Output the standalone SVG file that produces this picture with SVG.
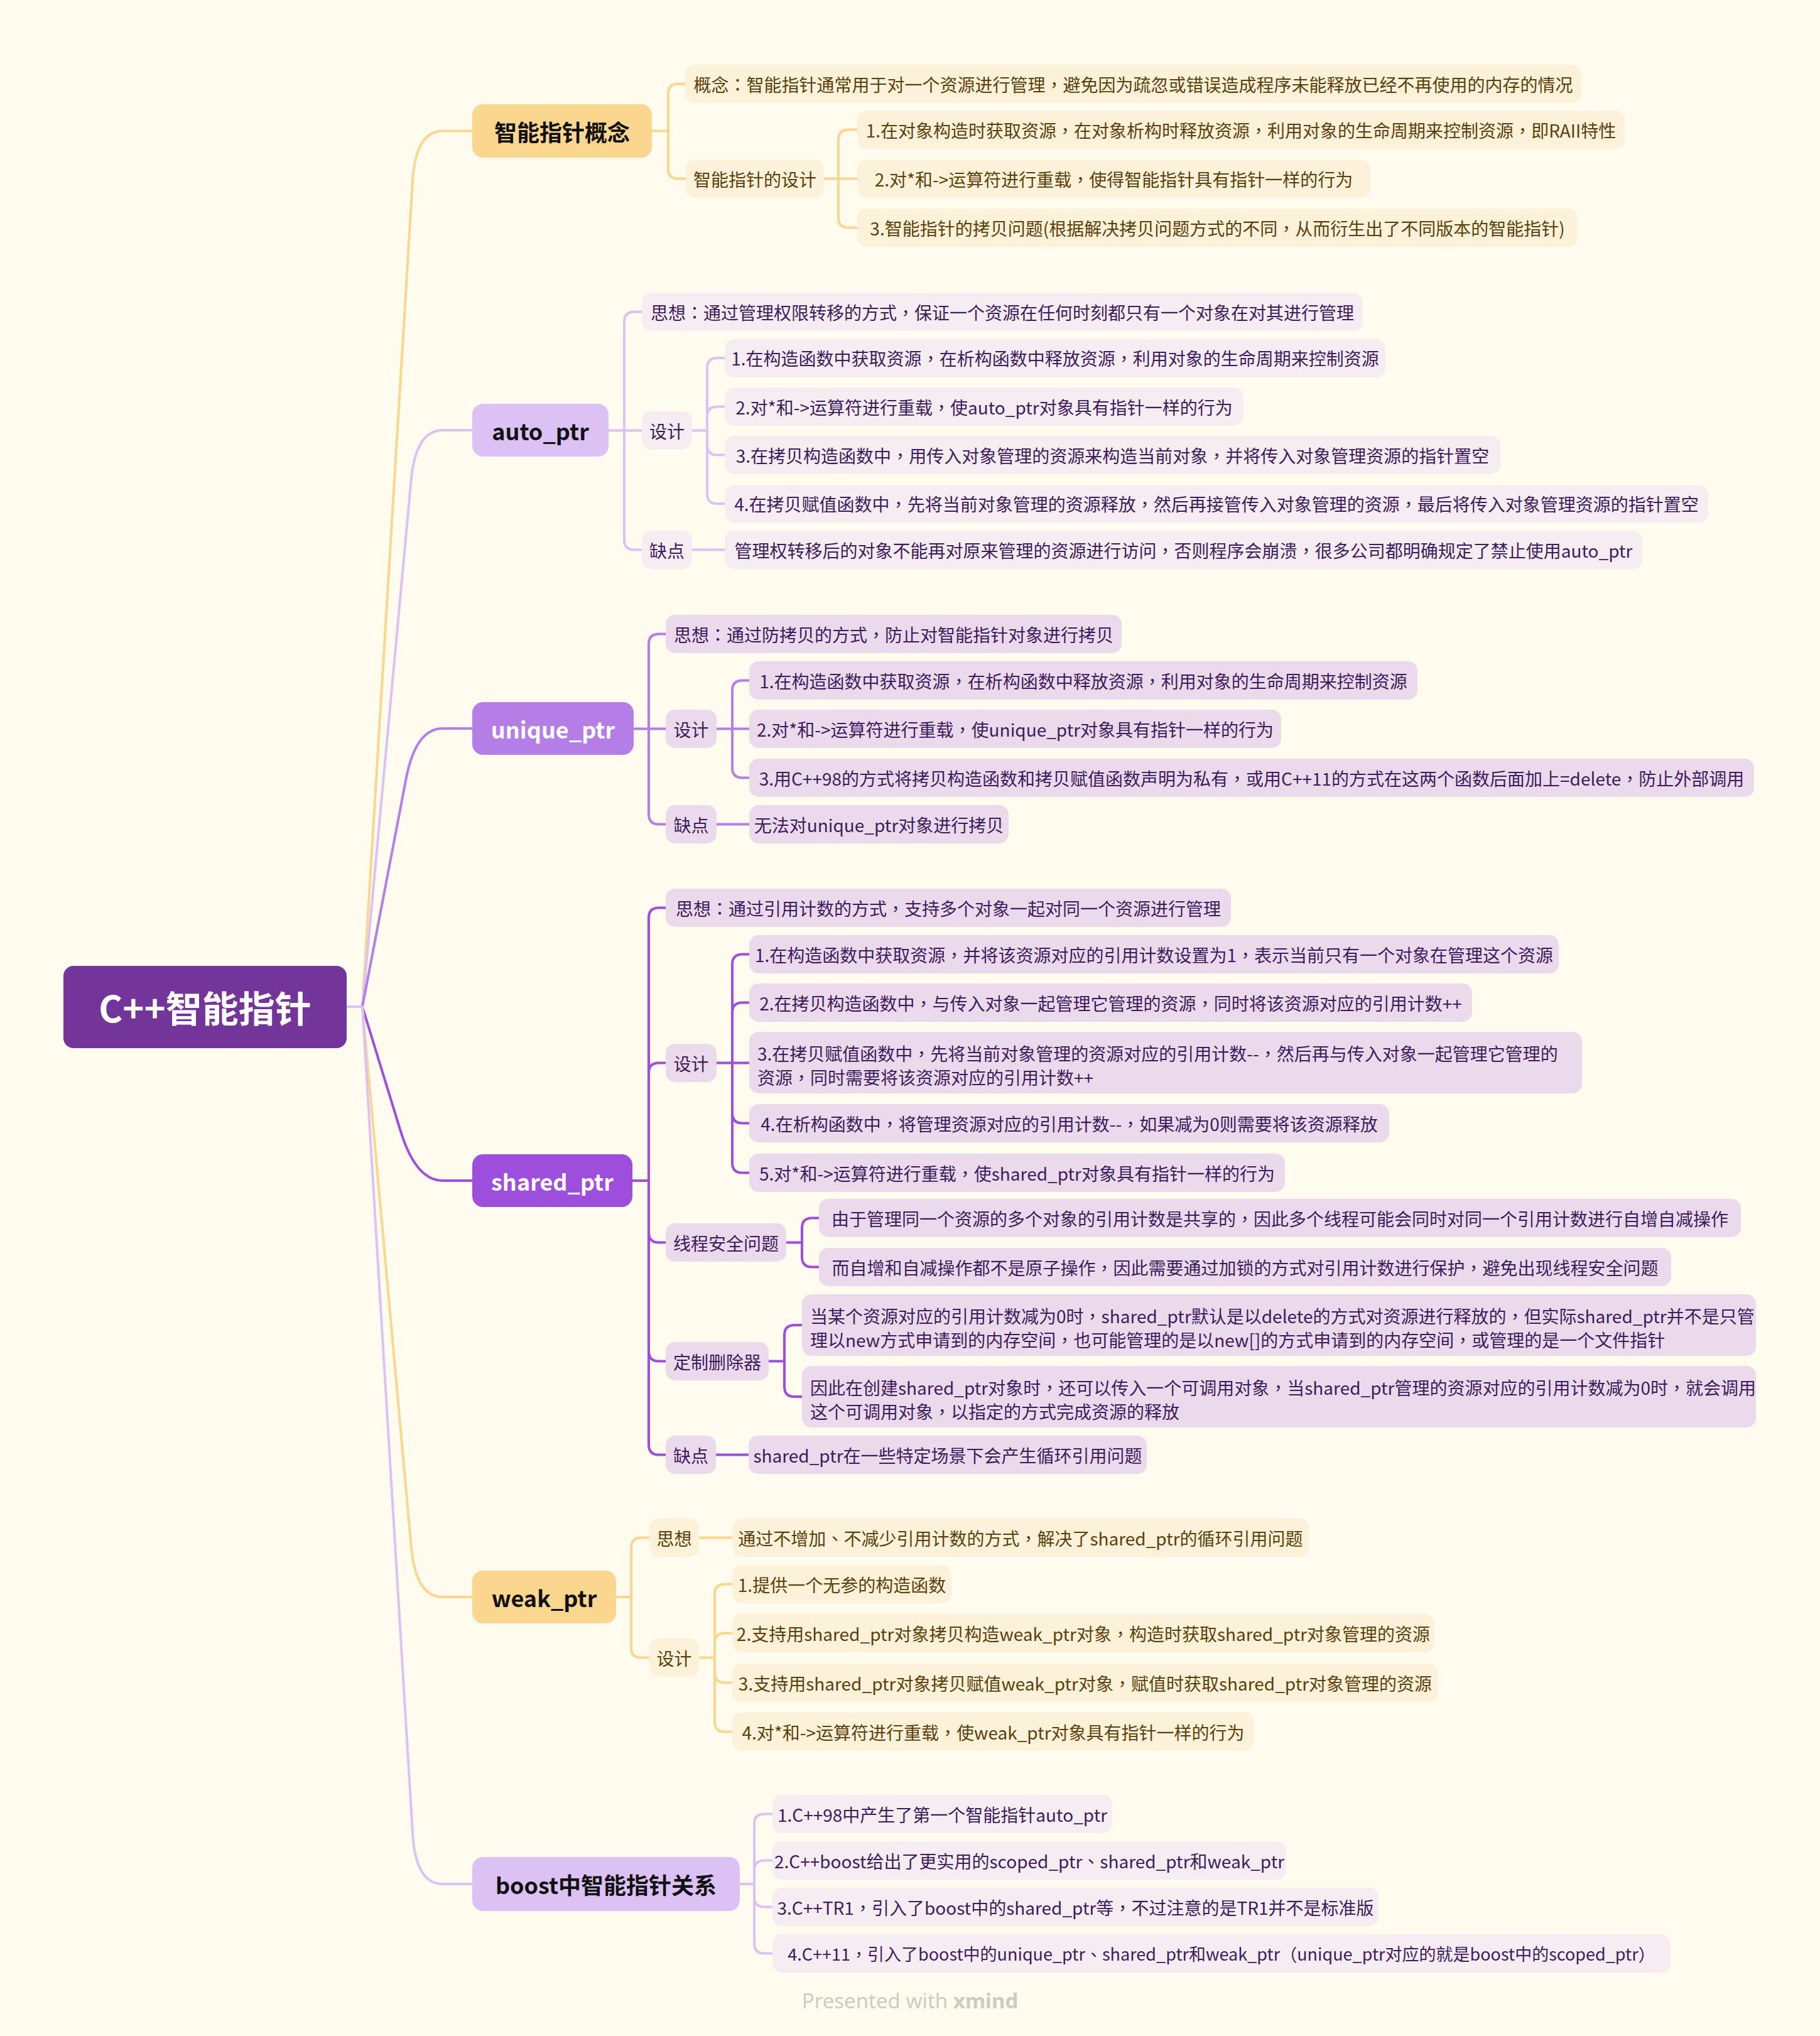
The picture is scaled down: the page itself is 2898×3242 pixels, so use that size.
<svg xmlns="http://www.w3.org/2000/svg" width="2898" height="3242" viewBox="0 0 2898 3242">
<style>
text{font-family:"Noto Sans CJK SC","Noto Sans",sans-serif;dominant-baseline:central;}
.pu{font-family:"Noto Sans CJK TC","Noto Sans CJK SC",sans-serif;}
.t{font-size:28px;text-anchor:middle;}
.tl{font-size:28px;}
.ty{fill:#5C3F0A;}
.tp{fill:#3E1B5C;}
.tm{font-size:36px;font-weight:700;text-anchor:middle;fill:#111111;}
.tw{font-size:36px;font-weight:700;text-anchor:middle;fill:#FFFFFF;}
.cy{fill:#FCF1D9;}
.cl{fill:#F5EDF1;}
.cp{fill:#EBD9EC;}
.my{fill:#FAD68E;}
.ml{fill:#DCC1F4;}
.mu{fill:#B57EE6;}
.ms{fill:#9D4EDD;}
.k{fill:none;stroke-width:4;stroke-linecap:round;stroke-linejoin:round;}
.ky{stroke:#FAD68E;}
.kl{stroke:#DCC1F4;}
.ku{stroke:#B57EE6;}
.ks{stroke:#9D4EDD;}
</style>
<rect x="0" y="0" width="2898" height="3242" fill="#FFFBEF"/>

<g id="connectors">
  <path class="k kl" d="M552,1603 L577,1603"/>
  <path class="k ky" d="M577,1603 L657,288.5 Q662,208.5 705,208.5 L752,208.5"/>
  <path class="k kl" d="M577,1603 L654.6,765 Q662,685 705,685 L752,685"/>
  <path class="k ku" d="M577,1603 L646.6,1240 Q662,1160 705,1160 L752,1160"/>
  <path class="k ks" d="M577,1603 L637.5,1800 Q662,1880 705,1880 L752,1880"/>
  <path class="k ky" d="M577,1603 L654.8,2463 Q662,2543 705,2543 L752,2543"/>
  <path class="k kl" d="M577,1603 L657.1,2920 Q662,3000 705,3000 L752,3000"/>

  <path class="k ky" d="M1038,208.5 L1064,208.5"/>
  <path class="k ky" d="M1064,208.5 L1064,149.5 Q1064,133.5 1080,133.5 L1091,133.5"/>
  <path class="k ky" d="M1064,208.5 L1064,268.5 Q1064,284.5 1080,284.5 L1092,284.5"/>
  <path class="k ky" d="M1312,284.5 L1335,284.5"/>
  <path class="k ky" d="M1335,284.5 L1335,222.5 Q1335,206.5 1351,206.5 L1365,206.5"/>
  <path class="k ky" d="M1335,284.5 L1365,284.5"/>
  <path class="k ky" d="M1335,284.5 L1335,346.5 Q1335,362.5 1351,362.5 L1365,362.5"/>

  <path class="k kl" d="M969,685.5 L994,685.5"/>
  <path class="k kl" d="M994,685.5 L994,512.5 Q994,496.5 1010,496.5 L1022,496.5"/>
  <path class="k kl" d="M994,685.5 L1022,685.5"/>
  <path class="k kl" d="M994,685.5 L994,859.5 Q994,875.5 1010,875.5 L1022,875.5"/>
  <path class="k kl" d="M1102,685.5 L1126,685.5"/>
  <path class="k kl" d="M1126,685.5 L1126,586 Q1126,570 1142,570 L1154,570"/>
  <path class="k kl" d="M1126,685.5 L1126,663.5 Q1126,647.5 1142,647.5 L1154,647.5"/>
  <path class="k kl" d="M1126,685.5 L1126,708.5 Q1126,724.5 1142,724.5 L1154,724.5"/>
  <path class="k kl" d="M1126,685.5 L1126,786 Q1126,802 1142,802 L1154,802"/>
  <path class="k kl" d="M1102,875.5 L1154,875.5"/>

  <path class="k ku" d="M1009,1160.5 L1033,1160.5"/>
  <path class="k ku" d="M1033,1160.5 L1033,1025.5 Q1033,1009.5 1049,1009.5 L1060,1009.5"/>
  <path class="k ku" d="M1033,1160.5 L1060,1160.5"/>
  <path class="k ku" d="M1033,1160.5 L1033,1296.5 Q1033,1312.5 1049,1312.5 L1060,1312.5"/>
  <path class="k ku" d="M1141,1160.5 L1166,1160.5"/>
  <path class="k ku" d="M1166,1160.5 L1166,1099.5 Q1166,1083.5 1182,1083.5 L1193,1083.5"/>
  <path class="k ku" d="M1166,1160.5 L1193,1160.5"/>
  <path class="k ku" d="M1166,1160.5 L1166,1222.5 Q1166,1238.5 1182,1238.5 L1193,1238.5"/>
  <path class="k ku" d="M1141,1312.5 L1193,1312.5"/>

  <path class="k ks" d="M1007,1880 L1033,1880"/>
  <path class="k ks" d="M1033,1880 L1033,1461.5 Q1033,1445.5 1049,1445.5 L1060,1445.5"/>
  <path class="k ks" d="M1033,1880 L1033,1708.5 Q1033,1692.5 1049,1692.5 L1060,1692.5"/>
  <path class="k ks" d="M1033,1880 L1033,1962.5 Q1033,1978.5 1049,1978.5 L1060,1978.5"/>
  <path class="k ks" d="M1033,1880 L1033,2151.5 Q1033,2167.5 1049,2167.5 L1060,2167.5"/>
  <path class="k ks" d="M1033,1880 L1033,2300.5 Q1033,2316.5 1049,2316.5 L1060,2316.5"/>
  <path class="k ks" d="M1141,1692.5 L1166,1692.5"/>
  <path class="k ks" d="M1166,1692.5 L1166,1535.5 Q1166,1519.5 1182,1519.5 L1193,1519.5"/>
  <path class="k ks" d="M1166,1692.5 L1166,1612.5 Q1166,1596.5 1182,1596.5 L1193,1596.5"/>
  <path class="k ks" d="M1166,1692.5 L1193,1692.5"/>
  <path class="k ks" d="M1166,1692.5 L1166,1772.5 Q1166,1788.5 1182,1788.5 L1193,1788.5"/>
  <path class="k ks" d="M1166,1692.5 L1166,1851.5 Q1166,1867.5 1182,1867.5 L1193,1867.5"/>
  <path class="k ks" d="M1252,1978.5 L1277,1978.5"/>
  <path class="k ks" d="M1277,1978.5 L1277,1955.5 Q1277,1939.5 1293,1939.5 L1304,1939.5"/>
  <path class="k ks" d="M1277,1978.5 L1277,2001.5 Q1277,2017.5 1293,2017.5 L1304,2017.5"/>
  <path class="k ks" d="M1224,2167.5 L1249,2167.5"/>
  <path class="k ks" d="M1249,2167.5 L1249,2126 Q1249,2110 1265,2110 L1277,2110"/>
  <path class="k ks" d="M1249,2167.5 L1249,2208 Q1249,2224 1265,2224 L1277,2224"/>
  <path class="k ks" d="M1140,2316.5 L1192,2316.5"/>

  <path class="k ky" d="M981,2543 L1005,2543"/>
  <path class="k ky" d="M1005,2543 L1005,2464.5 Q1005,2448.5 1021,2448.5 L1034,2448.5"/>
  <path class="k ky" d="M1005,2543 L1005,2623.5 Q1005,2639.5 1021,2639.5 L1034,2639.5"/>
  <path class="k ky" d="M1113,2448.5 L1166,2448.5"/>
  <path class="k ky" d="M1113,2639.5 L1138,2639.5"/>
  <path class="k ky" d="M1138,2639.5 L1138,2538.5 Q1138,2522.5 1154,2522.5 L1166,2522.5"/>
  <path class="k ky" d="M1138,2639.5 L1138,2616.5 Q1138,2600.5 1154,2600.5 L1166,2600.5"/>
  <path class="k ky" d="M1138,2639.5 L1138,2663.5 Q1138,2679.5 1154,2679.5 L1166,2679.5"/>
  <path class="k ky" d="M1138,2639.5 L1138,2741.5 Q1138,2757.5 1154,2757.5 L1166,2757.5"/>

  <path class="k kl" d="M1178,3000 L1201,3000"/>
  <path class="k kl" d="M1201,3000 L1201,2904.5 Q1201,2888.5 1217,2888.5 L1230,2888.5"/>
  <path class="k kl" d="M1201,3000 L1201,2978.5 Q1201,2962.5 1217,2962.5 L1230,2962.5"/>
  <path class="k kl" d="M1201,3000 L1201,3020.5 Q1201,3036.5 1217,3036.5 L1230,3036.5"/>
  <path class="k kl" d="M1201,3000 L1201,3094.5 Q1201,3110.5 1217,3110.5 L1230,3110.5"/>
</g>

<g id="root">
  <rect x="101" y="1538" width="451" height="131" rx="16" fill="#74359B"/>
  <text x="326.5" y="1603" style="font-size:58px;font-weight:700;text-anchor:middle;fill:#FFFFFF;">C++智能指针</text>
</g>

<g id="n-concept">
  <rect class="my" x="752" y="166" width="286" height="85" rx="17"/>
  <text class="tm" x="895" y="208.5">智能指针概念</text>
</g>
<g id="n-concept-def">
  <rect class="cy" x="1091" y="103" width="1427" height="61" rx="15"/>
  <text class="t ty" x="1804.5" y="133.5">概念<tspan class="pu">：</tspan>智能指针通常用于对一个资源进行管理<tspan class="pu">，</tspan>避免因为疏忽或错误造成程序未能释放已经不再使用的内存的情况</text>
</g>
<g id="n-concept-design">
  <rect class="cy" x="1092" y="254" width="220" height="61" rx="15"/>
  <text class="t ty" x="1202" y="284.5">智能指针的设计</text>
</g>
<g id="n-concept-design-1">
  <rect class="cy" x="1365" y="176" width="1222" height="61" rx="15"/>
  <text class="t ty" x="1976" y="206.5">1.在对象构造时获取资源<tspan class="pu">，</tspan>在对象析构时释放资源<tspan class="pu">，</tspan>利用对象的生命周期来控制资源<tspan class="pu">，</tspan>即RAII特性</text>
</g>
<g id="n-concept-design-2">
  <rect class="cy" x="1365" y="254" width="817" height="61" rx="15"/>
  <text class="t ty" x="1773.5" y="284.5">2.对*和->运算符进行重载<tspan class="pu">，</tspan>使得智能指针具有指针一样的行为</text>
</g>
<g id="n-concept-design-3">
  <rect class="cy" x="1365" y="332" width="1147" height="61" rx="15"/>
  <text class="t ty" x="1938.5" y="362.5">3.智能指针的拷贝问题(根据解决拷贝问题方式的不同<tspan class="pu">，</tspan>从而衍生出了不同版本的智能指针)</text>
</g>

<g id="n-auto">
  <rect class="ml" x="752" y="643" width="217" height="84" rx="17"/>
  <text class="tm" x="860.5" y="685">auto_ptr</text>
</g>
<g id="n-auto-idea">
  <rect class="cl" x="1022" y="466" width="1148" height="61" rx="15"/>
  <text class="t tp" x="1596" y="496.5">思想<tspan class="pu">：</tspan>通过管理权限转移的方式<tspan class="pu">，</tspan>保证一个资源在任何时刻都只有一个对象在对其进行管理</text>
</g>
<g id="n-auto-design">
  <rect class="cl" x="1022" y="655" width="80" height="61" rx="15"/>
  <text class="t tp" x="1062" y="685.5">设计</text>
</g>
<g id="n-auto-design-1">
  <rect class="cl" x="1154" y="540" width="1052" height="61" rx="15"/>
  <text class="t tp" x="1680" y="570">1.在构造函数中获取资源<tspan class="pu">，</tspan>在析构函数中释放资源<tspan class="pu">，</tspan>利用对象的生命周期来控制资源</text>
</g>
<g id="n-auto-design-2">
  <rect class="cl" x="1154" y="617" width="826" height="61" rx="15"/>
  <text class="t tp" x="1567" y="647.5">2.对*和->运算符进行重载<tspan class="pu">，</tspan>使auto_ptr对象具有指针一样的行为</text>
</g>
<g id="n-auto-design-3">
  <rect class="cl" x="1154" y="694" width="1235" height="61" rx="15"/>
  <text class="t tp" x="1771.5" y="724.5">3.在拷贝构造函数中<tspan class="pu">，</tspan>用传入对象管理的资源来构造当前对象<tspan class="pu">，</tspan>并将传入对象管理资源的指针置空</text>
</g>
<g id="n-auto-design-4">
  <rect class="cl" x="1154" y="772" width="1566" height="61" rx="15"/>
  <text class="t tp" x="1937" y="802">4.在拷贝赋值函数中<tspan class="pu">，</tspan>先将当前对象管理的资源释放<tspan class="pu">，</tspan>然后再接管传入对象管理的资源<tspan class="pu">，</tspan>最后将传入对象管理资源的指针置空</text>
</g>
<g id="n-auto-cons">
  <rect class="cl" x="1022" y="845" width="80" height="61" rx="15"/>
  <text class="t tp" x="1062" y="875.5">缺点</text>
</g>
<g id="n-auto-cons-1">
  <rect class="cl" x="1154" y="845" width="1461" height="61" rx="15"/>
  <text class="t tp" x="1884.5" y="875.5">管理权转移后的对象不能再对原来管理的资源进行访问<tspan class="pu">，</tspan>否则程序会崩溃<tspan class="pu">，</tspan>很多公司都明确规定了禁止使用auto_ptr</text>
</g>

<g id="n-unique">
  <rect class="mu" x="752" y="1118" width="257" height="84" rx="17"/>
  <text class="tw" x="880.5" y="1160">unique_ptr</text>
</g>
<g id="n-unique-idea">
  <rect class="cp" x="1060" y="979" width="726" height="61" rx="15"/>
  <text class="t tp" x="1423" y="1009.5">思想<tspan class="pu">：</tspan>通过防拷贝的方式<tspan class="pu">，</tspan>防止对智能指针对象进行拷贝</text>
</g>
<g id="n-unique-design">
  <rect class="cp" x="1060" y="1130" width="81" height="61" rx="15"/>
  <text class="t tp" x="1100.5" y="1160.5">设计</text>
</g>
<g id="n-unique-design-1">
  <rect class="cp" x="1193" y="1053" width="1064" height="61" rx="15"/>
  <text class="t tp" x="1725" y="1083.5">1.在构造函数中获取资源<tspan class="pu">，</tspan>在析构函数中释放资源<tspan class="pu">，</tspan>利用对象的生命周期来控制资源</text>
</g>
<g id="n-unique-design-2">
  <rect class="cp" x="1193" y="1130" width="847" height="61" rx="15"/>
  <text class="t tp" x="1616.5" y="1160.5">2.对*和->运算符进行重载<tspan class="pu">，</tspan>使unique_ptr对象具有指针一样的行为</text>
</g>
<g id="n-unique-design-3">
  <rect class="cp" x="1193" y="1208" width="1600" height="61" rx="15"/>
  <text class="t tp" x="1993" y="1238.5">3.用C++98的方式将拷贝构造函数和拷贝赋值函数声明为私有<tspan class="pu">，</tspan>或用C++11的方式在这两个函数后面加上=delete<tspan class="pu">，</tspan>防止外部调用</text>
</g>
<g id="n-unique-cons">
  <rect class="cp" x="1060" y="1282" width="81" height="61" rx="15"/>
  <text class="t tp" x="1100.5" y="1312.5">缺点</text>
</g>
<g id="n-unique-cons-1">
  <rect class="cp" x="1193" y="1282" width="413" height="61" rx="15"/>
  <text class="t tp" x="1399.5" y="1312.5">无法对unique_ptr对象进行拷贝</text>
</g>

<g id="n-shared">
  <rect class="ms" x="752" y="1838" width="255" height="84" rx="17"/>
  <text class="tw" x="879.5" y="1880">shared_ptr</text>
</g>
<g id="n-shared-idea">
  <rect class="cp" x="1060" y="1415" width="900" height="61" rx="15"/>
  <text class="t tp" x="1510" y="1445.5">思想<tspan class="pu">：</tspan>通过引用计数的方式<tspan class="pu">，</tspan>支持多个对象一起对同一个资源进行管理</text>
</g>
<g id="n-shared-design">
  <rect class="cp" x="1060" y="1662" width="81" height="61" rx="15"/>
  <text class="t tp" x="1100.5" y="1692.5">设计</text>
</g>
<g id="n-shared-design-1">
  <rect class="cp" x="1193" y="1489" width="1289" height="61" rx="15"/>
  <text class="t tp" x="1837.5" y="1519.5">1.在构造函数中获取资源<tspan class="pu">，</tspan>并将该资源对应的引用计数设置为1<tspan class="pu">，</tspan>表示当前只有一个对象在管理这个资源</text>
</g>
<g id="n-shared-design-2">
  <rect class="cp" x="1193" y="1566" width="1151" height="61" rx="15"/>
  <text class="t tp" x="1768.5" y="1596.5">2.在拷贝构造函数中<tspan class="pu">，</tspan>与传入对象一起管理它管理的资源<tspan class="pu">，</tspan>同时将该资源对应的引用计数++</text>
</g>
<g id="n-shared-design-3">
  <rect class="cp" x="1193" y="1643" width="1326" height="98" rx="15"/>
  <text class="tl tp" x="1206" y="1677">3.在拷贝赋值函数中<tspan class="pu">，</tspan>先将当前对象管理的资源对应的引用计数--<tspan class="pu">，</tspan>然后再与传入对象一起管理它管理的</text>
  <text class="tl tp" x="1206" y="1715">资源<tspan class="pu">，</tspan>同时需要将该资源对应的引用计数++</text>
</g>
<g id="n-shared-design-4">
  <rect class="cp" x="1193" y="1758" width="1019" height="61" rx="15"/>
  <text class="t tp" x="1702.5" y="1788.5">4.在析构函数中<tspan class="pu">，</tspan>将管理资源对应的引用计数--<tspan class="pu">，</tspan>如果减为0则需要将该资源释放</text>
</g>
<g id="n-shared-design-5">
  <rect class="cp" x="1193" y="1837" width="853" height="61" rx="15"/>
  <text class="t tp" x="1619.5" y="1867.5">5.对*和->运算符进行重载<tspan class="pu">，</tspan>使shared_ptr对象具有指针一样的行为</text>
</g>
<g id="n-shared-thread">
  <rect class="cp" x="1060" y="1948" width="192" height="61" rx="15"/>
  <text class="t tp" x="1156" y="1978.5">线程安全问题</text>
</g>
<g id="n-shared-thread-1">
  <rect class="cp" x="1304" y="1909" width="1468" height="61" rx="15"/>
  <text class="t tp" x="2038" y="1939.5">由于管理同一个资源的多个对象的引用计数是共享的<tspan class="pu">，</tspan>因此多个线程可能会同时对同一个引用计数进行自增自减操作</text>
</g>
<g id="n-shared-thread-2">
  <rect class="cp" x="1304" y="1987" width="1357" height="61" rx="15"/>
  <text class="t tp" x="1982.5" y="2017.5">而自增和自减操作都不是原子操作<tspan class="pu">，</tspan>因此需要通过加锁的方式对引用计数进行保护<tspan class="pu">，</tspan>避免出现线程安全问题</text>
</g>
<g id="n-shared-deleter">
  <rect class="cp" x="1060" y="2137" width="164" height="61" rx="15"/>
  <text class="t tp" x="1142" y="2167.5">定制删除器</text>
</g>
<g id="n-shared-deleter-1">
  <rect class="cp" x="1277" y="2061" width="1519" height="98" rx="15"/>
  <text class="tl tp" x="1290" y="2095">当某个资源对应的引用计数减为0时<tspan class="pu">，</tspan>shared_ptr默认是以delete的方式对资源进行释放的<tspan class="pu">，</tspan>但实际shared_ptr并不是只管</text>
  <text class="tl tp" x="1290" y="2133">理以new方式申请到的内存空间<tspan class="pu">，</tspan>也可能管理的是以new[]的方式申请到的内存空间<tspan class="pu">，</tspan>或管理的是一个文件指针</text>
</g>
<g id="n-shared-deleter-2">
  <rect class="cp" x="1277" y="2175" width="1519" height="98" rx="15"/>
  <text class="tl tp" x="1290" y="2209">因此在创建shared_ptr对象时<tspan class="pu">，</tspan>还可以传入一个可调用对象<tspan class="pu">，</tspan>当shared_ptr管理的资源对应的引用计数减为0时<tspan class="pu">，</tspan>就会调用</text>
  <text class="tl tp" x="1290" y="2247">这个可调用对象<tspan class="pu">，</tspan>以指定的方式完成资源的释放</text>
</g>
<g id="n-shared-cons">
  <rect class="cp" x="1060" y="2286" width="80" height="61" rx="15"/>
  <text class="t tp" x="1100" y="2316.5">缺点</text>
</g>
<g id="n-shared-cons-1">
  <rect class="cp" x="1192" y="2286" width="634" height="61" rx="15"/>
  <text class="t tp" x="1509" y="2316.5">shared_ptr在一些特定场景下会产生循环引用问题</text>
</g>

<g id="n-weak">
  <rect class="my" x="752" y="2501" width="229" height="84" rx="17"/>
  <text class="tm" x="866.5" y="2543">weak_ptr</text>
</g>
<g id="n-weak-idea">
  <rect class="cy" x="1034" y="2418" width="79" height="61" rx="15"/>
  <text class="t ty" x="1073.5" y="2448.5">思想</text>
</g>
<g id="n-weak-idea-1">
  <rect class="cy" x="1166" y="2418" width="918" height="61" rx="15"/>
  <text class="t ty" x="1625" y="2448.5">通过不增加<tspan class="pu">、</tspan>不减少引用计数的方式<tspan class="pu">，</tspan>解决了shared_ptr的循环引用问题</text>
</g>
<g id="n-weak-design">
  <rect class="cy" x="1034" y="2609" width="79" height="61" rx="15"/>
  <text class="t ty" x="1073.5" y="2639.5">设计</text>
</g>
<g id="n-weak-design-1">
  <rect class="cy" x="1166" y="2492" width="349" height="61" rx="15"/>
  <text class="t ty" x="1340.5" y="2522.5">1.提供一个无参的构造函数</text>
</g>
<g id="n-weak-design-2">
  <rect class="cy" x="1166" y="2570" width="1118" height="61" rx="15"/>
  <text class="t ty" x="1725" y="2600.5">2.支持用shared_ptr对象拷贝构造weak_ptr对象<tspan class="pu">，</tspan>构造时获取shared_ptr对象管理的资源</text>
</g>
<g id="n-weak-design-3">
  <rect class="cy" x="1166" y="2649" width="1124" height="61" rx="15"/>
  <text class="t ty" x="1728" y="2679.5">3.支持用shared_ptr对象拷贝赋值weak_ptr对象<tspan class="pu">，</tspan>赋值时获取shared_ptr对象管理的资源</text>
</g>
<g id="n-weak-design-4">
  <rect class="cy" x="1166" y="2727" width="831" height="61" rx="15"/>
  <text class="t ty" x="1581.5" y="2757.5">4.对*和->运算符进行重载<tspan class="pu">，</tspan>使weak_ptr对象具有指针一样的行为</text>
</g>

<g id="n-boost">
  <rect class="ml" x="752" y="2957" width="426" height="86" rx="17"/>
  <text class="tm" x="965" y="3000">boost中智能指针关系</text>
</g>
<g id="n-boost-1">
  <rect class="cl" x="1230" y="2858" width="541" height="61" rx="15"/>
  <text class="t tp" x="1500.5" y="2888.5">1.C++98中产生了第一个智能指针auto_ptr</text>
</g>
<g id="n-boost-2">
  <rect class="cl" x="1230" y="2932" width="818" height="61" rx="15"/>
  <text class="t tp" x="1639" y="2962.5">2.C++boost给出了更实用的scoped_ptr<tspan class="pu">、</tspan>shared_ptr和weak_ptr</text>
</g>
<g id="n-boost-3">
  <rect class="cl" x="1230" y="3006" width="965" height="61" rx="15"/>
  <text class="t tp" x="1712.5" y="3036.5">3.C++TR1<tspan class="pu">，</tspan>引入了boost中的shared_ptr等<tspan class="pu">，</tspan>不过注意的是TR1并不是标准版</text>
</g>
<g id="n-boost-4">
  <rect class="cl" x="1230" y="3080" width="1430" height="61" rx="15"/>
  <text class="t tp" x="1945" y="3110.5" style="font-size:27px;">4.C++11<tspan class="pu">，</tspan>引入了boost中的unique_ptr<tspan class="pu">、</tspan>shared_ptr和weak_ptr<tspan class="pu">（</tspan>unique_ptr对应的就是boost中的scoped_ptr<tspan class="pu">）</tspan></text>
</g>

<g id="footer">
  <text x="1449" y="3185" style="font-family:'Noto Sans',sans-serif;font-size:33px;text-anchor:middle;fill:#CFCCBE;">Presented with <tspan style="font-weight:700;">xmind</tspan></text>
</g>
</svg>
